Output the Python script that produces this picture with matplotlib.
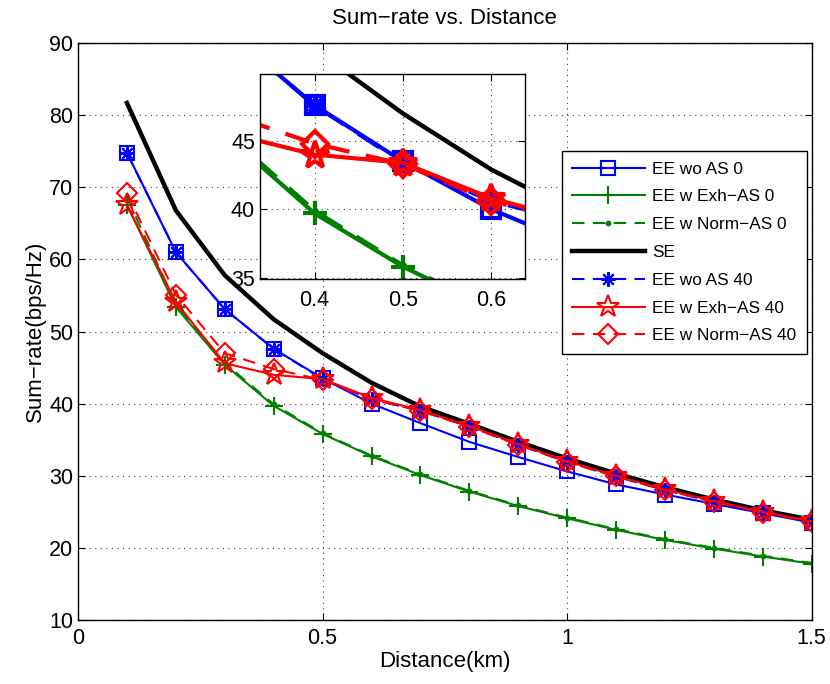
from matplotlib import rcParams
rcParams['font.family'] = ['Liberation Sans', 'DejaVu Sans']

import matplotlib.pyplot as plt

# Data
distance = [0.1, 0.2, 0.3, 0.4, 0.5, 0.6, 0.7, 0.8, 0.9, 1.0, 1.1, 1.2, 1.3, 1.4, 1.5]

se = [81.7, 66.8, 57.8, 51.7, 47.0, 42.9, 39.6, 37.2, 34.7, 32.4, 30.3, 28.4, 26.7, 25.2, 23.9]
ee_wo_as_0 = [74.8, 61.0, 53.1, 47.6, 43.5, 40.0, 37.3, 34.7, 32.6, 30.6, 28.8, 27.4, 26.1, 24.8, 23.5]
ee_exh_as_0 = [67.6, 53.4, 45.4, 39.7, 35.8, 32.7, 30.1, 27.8, 25.8, 24.1, 22.5, 21.1, 19.9, 18.8, 17.8]
ee_norm_as_0 = [68.6, 53.8, 45.6, 39.9, 35.9, 32.8, 30.2, 27.9, 25.9, 24.2, 22.6, 21.2, 20.0, 18.9, 17.9]
ee_wo_as_40 = [74.8, 61.0, 53.1, 47.6, 43.4, 40.6, 39.0, 36.8, 34.3, 31.9, 29.9, 28.0, 26.4, 24.9, 23.6]
ee_exh_as_40 = [67.5, 54.1, 45.6, 44.0, 43.4, 40.8, 39.1, 36.9, 34.4, 32.0, 30.0, 28.1, 26.5, 25.0, 23.7]
ee_norm_as_40 = [69.2, 55.1, 47.0, 44.8, 43.3, 40.6, 39.0, 36.8, 34.3, 31.9, 29.9, 28.0, 26.4, 24.9, 23.6]

labels = ['EE wo AS 0', 'EE w Exh\u2212AS 0', 'EE w Norm\u2212AS 0', 'SE',
          'EE wo AS 40', 'EE w Exh\u2212AS 40', 'EE w Norm\u2212AS 40']

BLUE = (0, 0, 1)
GREEN = (0, 0.5, 0)
RED = (1, 0, 0)
DASH = (0, (6, 4))
ASTER = (8, 2, 0)


def draw_curves(ax, lw, blw, ms):
    # ms scales all marker sizes
    ax.plot(distance, ee_wo_as_0, color=BLUE, lw=lw, marker='s', ms=ms * 1.0,
            mfc='none', mew=lw, label=labels[0])
    ax.plot(distance, ee_exh_as_0, color=GREEN, lw=lw, marker='+', ms=ms * 1.3,
            mew=lw, label=labels[1])
    ax.plot(distance, ee_norm_as_0, color=GREEN, lw=lw, ls=DASH, marker='.',
            ms=ms * 0.6, label=labels[2])
    ax.plot(distance, se, color='k', lw=blw, label=labels[3])
    ax.plot(distance, ee_wo_as_40, color=BLUE, lw=lw, ls=DASH, marker=ASTER,
            ms=ms * 1.0, mew=lw, label=labels[4])
    ax.plot(distance, ee_exh_as_40, color=RED, lw=lw, marker='*', ms=ms * 1.6,
            mfc='none', mew=lw, label=labels[5])
    ax.plot(distance, ee_norm_as_40, color=RED, lw=lw, ls=DASH, marker='D',
            ms=ms * 1.0, mfc='none', mew=lw, label=labels[6])


def style_axes(ax, size):
    ax.tick_params(direction='in', top=True, right=True, length=5,
                   width=0.8, labelsize=size, colors='k')
    ax.grid(True, linestyle=(0, (1, 4)), color='0.25', linewidth=0.8)
    for s in ax.spines.values():
        s.set_linewidth(1.0)
        s.set_color('k')


def main():
    fig = plt.figure(figsize=(8.3, 6.84), dpi=100)

    # Main plot
    ax = fig.add_axes([0.094, 0.0936, 0.884, 0.8434])
    draw_curves(ax, lw=1.5, blw=3.2, ms=10.5)
    ax.set_xlim(0, 1.5)
    ax.set_ylim(10, 90)
    ax.set_xticks([0, 0.5, 1, 1.5])
    ax.set_xticklabels(['0', '0.5', '1', '1.5'])
    ax.set_yticks(range(10, 91, 10))
    style_axes(ax, 15.5)
    ax.tick_params(axis='x', pad=6)
    ax.set_title('Sum\u2212rate vs. Distance', fontsize=16, pad=14)
    ax.set_xlabel('Distance(km)', fontsize=16, labelpad=1)
    ax.set_ylabel('Sum\u2212rate(bps/Hz)', fontsize=16, labelpad=2)

    leg = ax.legend(loc='upper right', bbox_to_anchor=(0.972, 0.779),
                    bbox_transform=fig.transFigure, fontsize=12.4,
                    handlelength=4.2, handletextpad=0.45, labelspacing=0.74,
                    borderpad=0.6, borderaxespad=0,
                    fancybox=False, framealpha=1, edgecolor='k')
    leg.get_frame().set_linewidth(1.0)

    # Zoomed inset
    axin = fig.add_axes([0.313, 0.592, 0.3195, 0.3])
    draw_curves(axin, lw=3.0, blw=3.2, ms=13)
    axin.set_xlim(0.338, 0.638)
    axin.set_ylim(34.9, 49.9)
    axin.set_xticks([0.4, 0.5, 0.6])
    axin.set_yticks([35, 40, 45])
    style_axes(axin, 15.5)
    axin.tick_params(axis='x', pad=8)

    fig.savefig('out.png', dpi=100)


if __name__ == '__main__':
    main()
